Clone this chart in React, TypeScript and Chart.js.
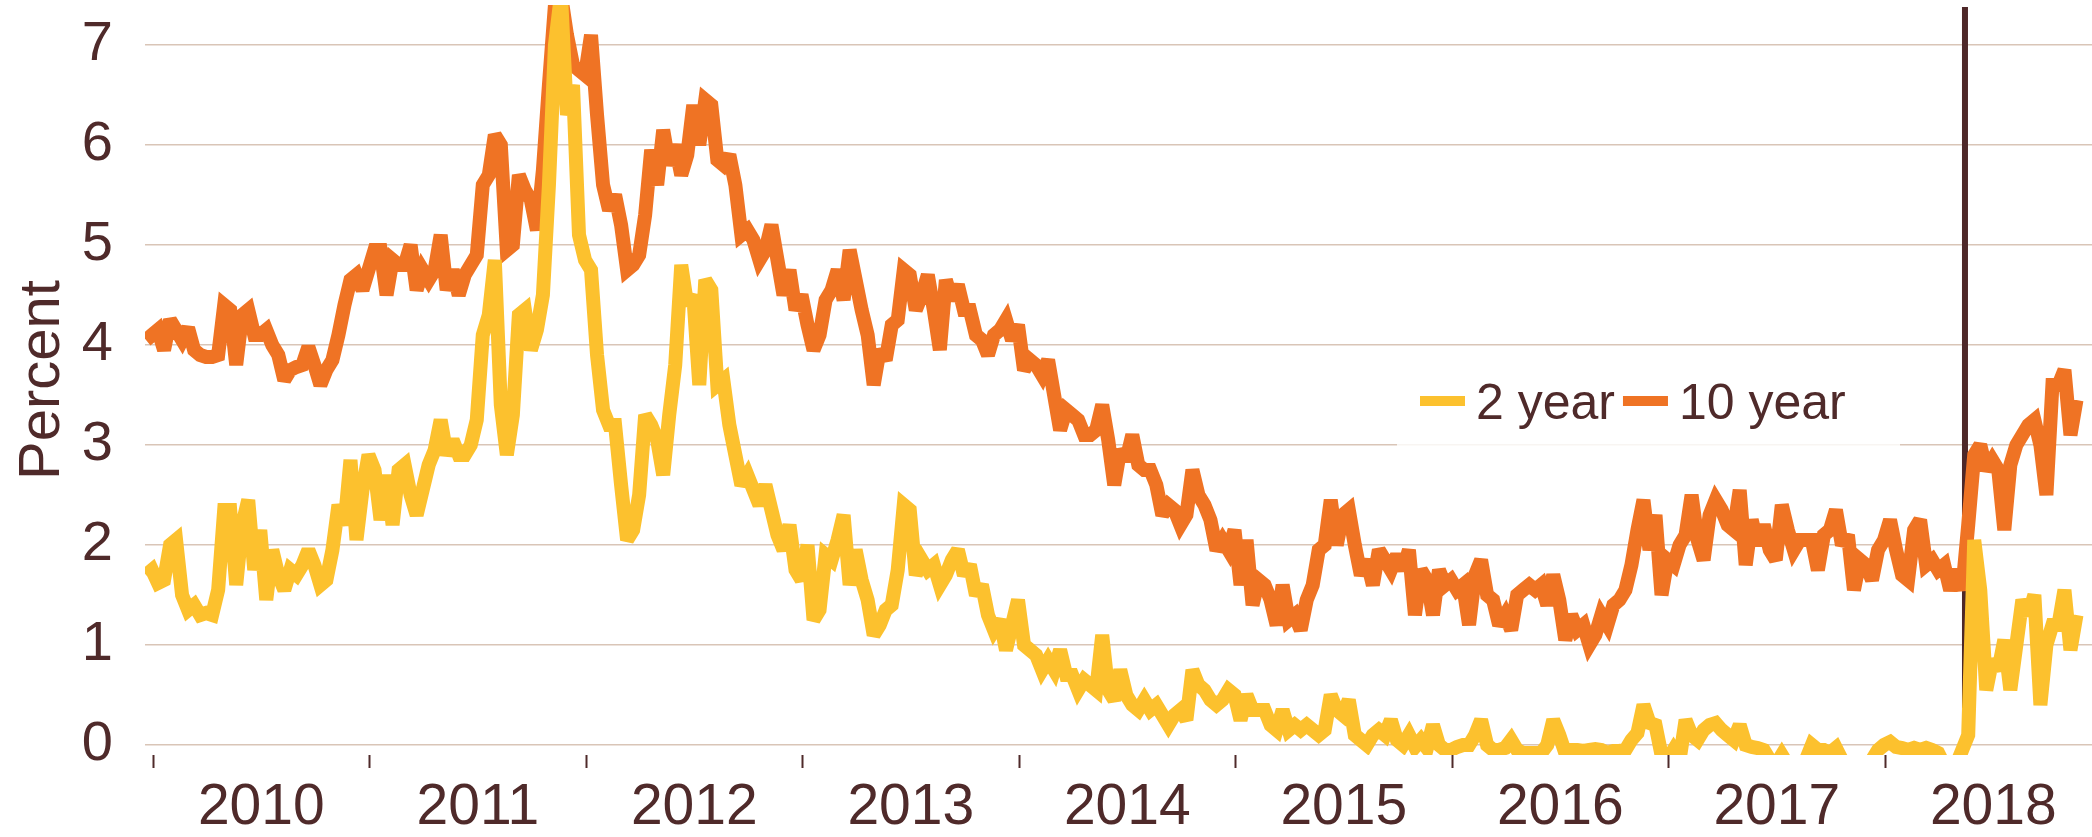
import React, { useEffect, useRef } from "react";
import { Chart, registerables } from "chart.js";

Chart.register(...registerables);

// ---------- data ----------
const SERIES_START = 2009.9663; // decimal year of first observation
const OBS_PER_YEAR = 36; // roughly every 10 days
const EVENT_DATE = 2018.368; // vertical marker (decimal year)
const YEAR_TICKS = [2010, 2011, 2012, 2013, 2014, 2015, 2016, 2017, 2018];
const Y_TICKS = [0, 1, 2, 3, 4, 5, 6, 7];
const LABEL_2Y = "2 year";
const LABEL_10Y = "10 year";

const TEN_Y_2010 = [4.05, 4.1, 4.15, 3.95, 4.25, 4.15, 4.05, 4.17, 3.95, 3.9, 3.88, 3.88, 3.9, 4.4, 4.35, 3.8, 4.3, 4.35, 4.1, 4.1, 4.15, 4.0, 3.9, 3.65, 3.75, 3.78, 3.8, 3.98, 3.8, 3.6, 3.75, 3.85, 4.1, 4.4, 4.65, 4.7];
const TEN_Y_2011 = [4.55, 4.75, 4.95, 4.95, 4.5, 4.85, 4.8, 4.8, 5.0, 4.55, 4.75, 4.65, 4.75, 5.1, 4.55, 4.75, 4.5, 4.7, 4.8, 4.9, 5.6, 5.7, 6.1, 6.0, 4.95, 5.0, 5.7, 5.55, 5.45, 5.15, 5.75, 6.6, 7.4, 7.5, 7.1, 6.8];
const TEN_Y_2012 = [6.75, 6.7, 7.1, 6.3, 5.6, 5.35, 5.5, 5.2, 4.75, 4.8, 4.9, 5.3, 5.95, 5.6, 6.15, 5.8, 6.0, 5.7, 5.9, 6.4, 6.0, 6.45, 6.4, 5.85, 5.8, 5.9, 5.6, 5.1, 5.15, 5.05, 4.85, 4.95, 5.2, 4.85, 4.5, 4.75];
const TEN_Y_2013 = [4.35, 4.5, 4.2, 3.95, 4.1, 4.45, 4.55, 4.75, 4.45, 4.95, 4.65, 4.35, 4.1, 3.6, 3.95, 3.85, 4.2, 4.25, 4.75, 4.7, 4.35, 4.5, 4.7, 4.35, 3.95, 4.65, 4.45, 4.6, 4.35, 4.35, 4.1, 4.05, 3.9, 4.1, 4.15, 4.25];
const TEN_Y_2014 = [4.05, 4.2, 3.75, 3.85, 3.8, 3.7, 3.85, 3.5, 3.15, 3.35, 3.3, 3.25, 3.1, 3.1, 3.15, 3.4, 3.05, 2.6, 2.95, 2.85, 3.1, 2.8, 2.75, 2.75, 2.6, 2.3, 2.4, 2.35, 2.2, 2.3, 2.75, 2.5, 2.4, 2.25, 1.95, 2.05];
const TEN_Y_2015 = [1.95, 2.15, 1.6, 2.05, 1.4, 1.65, 1.6, 1.45, 1.2, 1.6, 1.25, 1.3, 1.15, 1.45, 1.6, 1.95, 2.0, 2.45, 2.0, 2.3, 2.35, 2.0, 1.7, 1.85, 1.6, 1.95, 1.85, 1.75, 1.9, 1.75, 1.95, 1.3, 1.75, 1.65, 1.3, 1.75];
const TEN_Y_2016 = [1.6, 1.65, 1.55, 1.6, 1.2, 1.7, 1.85, 1.5, 1.45, 1.2, 1.3, 1.15, 1.5, 1.55, 1.6, 1.55, 1.6, 1.4, 1.7, 1.45, 1.05, 1.3, 1.15, 1.2, 1.0, 1.1, 1.3, 1.2, 1.4, 1.45, 1.55, 1.8, 2.15, 2.45, 1.95, 2.3];
const TEN_Y_2017 = [1.5, 1.85, 1.8, 2.0, 2.1, 2.5, 2.05, 1.85, 2.3, 2.45, 2.35, 2.2, 2.15, 2.55, 1.8, 2.25, 2.0, 2.2, 1.95, 1.85, 2.4, 2.15, 1.95, 2.05, 2.05, 2.05, 1.75, 2.1, 2.15, 2.35, 2.0, 2.1, 1.55, 1.85, 1.8, 1.65];
const TEN_Y_2018 = [1.95, 2.05, 2.25, 1.95, 1.7, 1.65, 2.15, 2.25, 1.8, 1.85, 1.75, 1.8, 1.55, 1.75, 1.55, 2.2, 2.9, 3.0, 2.75, 2.85, 2.75, 2.15, 2.8, 3.0, 3.1, 3.2, 3.25, 3.0, 2.5, 3.6, 3.6, 3.75, 3.1, 3.45];

const TWO_Y_2010 = [1.7, 1.75, 1.62, 1.65, 2.0, 2.05, 1.5, 1.35, 1.4, 1.3, 1.32, 1.3, 1.55, 2.35, 2.35, 1.6, 2.2, 2.45, 1.75, 2.15, 1.45, 1.95, 1.7, 1.55, 1.75, 1.7, 1.8, 1.95, 1.8, 1.6, 1.65, 1.95, 2.4, 2.2, 2.85, 2.05];
const TWO_Y_2011 = [2.55, 2.9, 2.75, 2.25, 2.7, 2.2, 2.75, 2.8, 2.5, 2.3, 2.55, 2.8, 2.95, 3.25, 2.9, 3.05, 2.9, 2.9, 3.0, 3.25, 4.1, 4.3, 4.85, 3.4, 2.9, 3.3, 4.3, 4.35, 3.95, 4.15, 4.5, 5.6, 7.0, 7.5, 6.3, 6.6];
const TWO_Y_2012 = [5.1, 4.85, 4.75, 3.9, 3.35, 3.2, 3.2, 2.6, 2.05, 2.15, 2.5, 3.3, 3.2, 3.05, 2.7, 3.3, 3.8, 4.8, 4.4, 4.5, 3.6, 4.65, 4.55, 3.6, 3.65, 3.2, 2.9, 2.6, 2.7, 2.55, 2.4, 2.6, 2.35, 2.1, 1.95, 2.2];
const TWO_Y_2013 = [1.75, 1.65, 2.0, 1.25, 1.35, 1.9, 1.85, 2.05, 2.3, 1.6, 1.95, 1.65, 1.45, 1.1, 1.2, 1.35, 1.4, 1.75, 2.4, 2.35, 1.7, 1.85, 1.75, 1.8, 1.6, 1.7, 1.85, 1.95, 1.7, 1.8, 1.5, 1.6, 1.3, 1.15, 1.25, 0.95];
const TWO_Y_2014 = [1.2, 1.45, 1.0, 0.95, 0.9, 0.75, 0.85, 0.75, 0.95, 0.7, 0.7, 0.55, 0.65, 0.6, 0.55, 1.1, 0.55, 0.45, 0.75, 0.5, 0.4, 0.35, 0.45, 0.35, 0.4, 0.3, 0.2, 0.3, 0.35, 0.25, 0.75, 0.6, 0.55, 0.45, 0.4, 0.45];
const TWO_Y_2015 = [0.55, 0.5, 0.25, 0.5, 0.35, 0.35, 0.35, 0.2, 0.15, 0.35, 0.15, 0.2, 0.15, 0.2, 0.15, 0.1, 0.15, 0.5, 0.35, 0.3, 0.45, 0.1, 0.05, 0.0, 0.1, 0.15, 0.1, 0.25, 0.05, 0.0, 0.1, -0.02, 0.05, -0.03, 0.2, 0.0];
const TWO_Y_2016 = [-0.05, -0.05, -0.02, 0.0, 0.0, 0.1, 0.25, 0.0, -0.05, -0.05, -0.03, 0.05, -0.05, -0.08, -0.08, -0.08, -0.08, 0.0, 0.25, 0.1, -0.08, -0.05, -0.05, -0.06, -0.05, -0.04, -0.05, -0.08, -0.06, -0.06, -0.05, 0.05, 0.12, 0.4, 0.22, 0.2];
const TWO_Y_2017 = [-0.1, -0.15, -0.05, -0.15, 0.25, 0.1, 0.05, 0.15, 0.2, 0.22, 0.15, 0.1, 0.05, 0.2, 0.0, -0.02, -0.03, -0.05, -0.15, -0.2, -0.1, -0.2, -0.25, -0.2, -0.15, 0.0, -0.05, -0.05, -0.08, -0.03, -0.15, -0.2, -0.2, -0.2, -0.2, -0.15];
const TWO_Y_2018 = [-0.05, 0.0, 0.03, -0.02, -0.03, -0.05, -0.03, -0.05, -0.03, -0.05, -0.08, -0.2, -0.2, -0.2, -0.05, 0.1, 2.05, 1.55, 0.55, 0.85, 0.75, 1.05, 0.55, 1.0, 1.45, 1.3, 1.5, 0.4, 1.0, 1.2, 1.2, 1.55, 0.95, 1.3];

const TEN_YEAR = [...TEN_Y_2010, ...TEN_Y_2011, ...TEN_Y_2012, ...TEN_Y_2013, ...TEN_Y_2014, ...TEN_Y_2015, ...TEN_Y_2016, ...TEN_Y_2017, ...TEN_Y_2018];
const TWO_YEAR = [...TWO_Y_2010, ...TWO_Y_2011, ...TWO_Y_2012, ...TWO_Y_2013, ...TWO_Y_2014, ...TWO_Y_2015, ...TWO_Y_2016, ...TWO_Y_2017, ...TWO_Y_2018];

// ---------- styles ----------
const FONT = "'Liberation Sans', Arial, Helvetica, sans-serif";
const TEXT = "#4F2A2A";
const GRID = "#D9C5B7";
const YELLOW = "#FCC12E";
const ORANGE = "#EF7324";
const MARKER = "#4E2829";
const LINE_W = 14;

const toPoints = (vals: number[]) =>
  vals.map((v, i) => ({ x: SERIES_START + i / OBS_PER_YEAR, y: v }));

const overlayPlugin = {
  id: "overlay",
  beforeDatasetsDraw(chart: any) {
    const { ctx, chartArea, scales } = chart;
    const x = scales.x.getPixelForValue(EVENT_DATE);
    ctx.save();
    ctx.strokeStyle = MARKER;
    ctx.lineWidth = 6;
    ctx.beginPath();
    ctx.moveTo(x, chartArea.top + 2);
    ctx.lineTo(x, scales.y.getPixelForValue(0) + 1);
    ctx.stroke();
    ctx.restore();
    ctx.save();
    ctx.miterLimit = 2.5;
  },
  afterDatasetsDraw(chart: any) {
    const { ctx } = chart;
    ctx.restore();
    // legend box
    ctx.save();
    ctx.fillStyle = "rgba(255,255,255,0.82)";
    ctx.fillRect(1397, 357, 503, 100);
    ctx.font = `50px ${FONT}`;
    ctx.textBaseline = "alphabetic";
    ctx.textAlign = "left";
    let x = 1420;
    const yMid = 401;
    chart.data.datasets.forEach((ds: any) => {
      ctx.strokeStyle = ds.borderColor;
      ctx.lineWidth = 10;
      ctx.lineCap = "butt";
      ctx.beginPath();
      ctx.moveTo(x, yMid);
      ctx.lineTo(x + 45, yMid);
      ctx.stroke();
      ctx.fillStyle = TEXT;
      ctx.fillText(ds.label, x + 56, 419);
      x = x + 56 + ctx.measureText(ds.label).width + 8;
    });
    ctx.restore();
  },
};

export default function App() {
  const ref = useRef<HTMLCanvasElement | null>(null);

  useEffect(() => {
    if (!ref.current) return;
    const chart = new Chart(ref.current, {
      type: "line",
      data: {
        datasets: [
          {
            label: LABEL_2Y,
            data: toPoints(TWO_YEAR),
            borderColor: YELLOW,
            backgroundColor: YELLOW,
            borderWidth: LINE_W,
            pointRadius: 0,
            tension: 0,
            clip: 0,
          },
          {
            label: LABEL_10Y,
            data: toPoints(TEN_YEAR),
            borderColor: ORANGE,
            backgroundColor: ORANGE,
            borderWidth: LINE_W,
            pointRadius: 0,
            tension: 0,
            clip: 0,
          },
        ],
      },
      options: {
        animation: false,
        responsive: false,
        devicePixelRatio: 1,
        layout: { padding: { top: 5, left: 0, right: 0, bottom: 0 } },
        plugins: { legend: { display: false }, tooltip: { enabled: false } },
        scales: {
          x: {
            type: "linear",
            position: "bottom",
            min: 2009.9617,
            max: 2018.9547,
            afterBuildTicks: (scale: any) => {
              scale.ticks = YEAR_TICKS.map((v) => ({ value: v }));
            },
            afterFit: (scale: any) => {
              scale.height = 82;
              scale.paddingLeft = 0;
              scale.paddingRight = 0;
            },
            ticks: {
              callback: (v: any) => String(v),
              autoSkip: false,
              maxRotation: 0,
              minRotation: 0,
              labelOffset: 108,
              padding: 12,
              color: TEXT,
              font: { family: FONT, size: 57, lineHeight: 1 },
            },
            grid: {
              display: true,
              drawOnChartArea: false,
              drawTicks: true,
              tickLength: 13,
              tickColor: TEXT,
              tickWidth: 2,
            },
            border: { display: false },
          },
          y: {
            type: "linear",
            position: "left",
            min: -0.1,
            max: 7.4,
            afterBuildTicks: (scale: any) => {
              scale.ticks = Y_TICKS.map((v) => ({ value: v }));
            },
            afterFit: (scale: any) => {
              scale.width = 145;
              scale.paddingTop = 0;
              scale.paddingBottom = 0;
            },
            ticks: {
              callback: (v: any) => String(v),
              padding: 32,
              color: TEXT,
              font: { family: FONT, size: 56, lineHeight: 1 },
            },
            grid: {
              color: GRID,
              lineWidth: 1.6,
              drawTicks: false,
            },
            border: { display: false },
            title: {
              display: true,
              text: "Percent",
              color: TEXT,
              padding: { top: 14, bottom: 0 },
              font: { family: FONT, size: 58, lineHeight: 1 },
            },
          },
        },
      },
      plugins: [overlayPlugin],
    } as any);
    return () => chart.destroy();
  }, []);

  return (
    <div style={{ position: "fixed", left: 0, top: 0, width: 2092, height: 837, background: "#fff" }}>
      <canvas ref={ref} width={2092} height={837} style={{ display: "block" }} />
    </div>
  );
}
